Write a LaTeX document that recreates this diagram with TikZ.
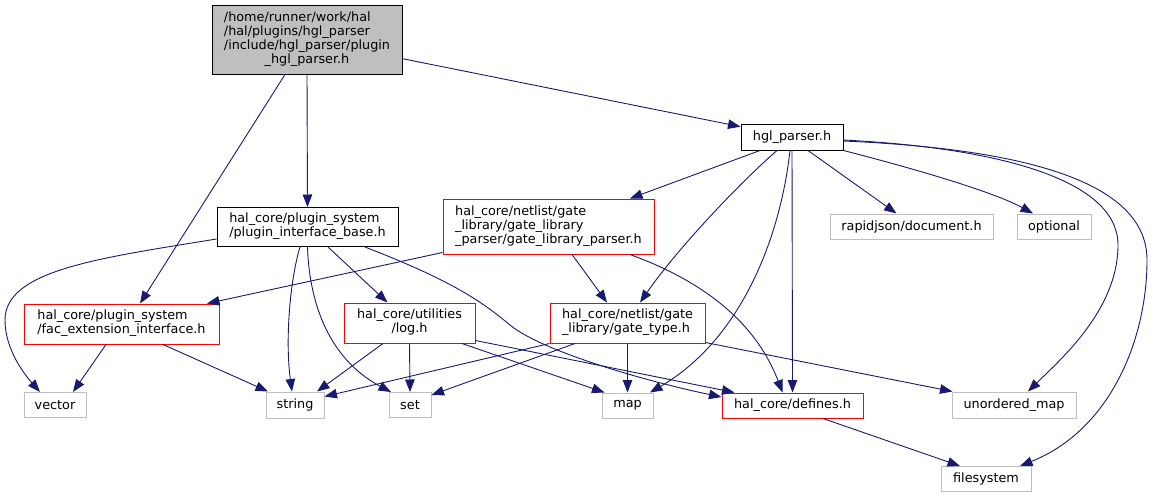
\documentclass[tikz,border=0pt]{standalone}
\usepackage{fontspec}
\setmainfont{DejaVu Sans}
\usetikzlibrary{arrows.meta}
\definecolor{edgeblue}{HTML}{191970}
\definecolor{boxred}{HTML}{FF0000}
\definecolor{boxgray}{HTML}{BFBFBF}
\tikzset{
  box/.style={draw, rectangle, inner sep=0pt, line width=1pt, fill=white,
    font=\fontsize{12.8}{13.7}\selectfont},
  blackbox/.style={box, draw=black},
  redbox/.style={box, draw=boxred},
  graybox/.style={box, draw=boxgray},
  mainbox/.style={box, draw=black, fill=boxgray},
  edge/.style={draw=edgeblue, line width=0.9pt,
    -{Triangle[length=12.5pt,width=9.5pt,fill=edgeblue]}},
}
\newcommand{\ml}[1]{\begin{tabular}{@{}l@{}}#1\end{tabular}}
\newcommand{\mc}[1]{\multicolumn{1}{@{}c@{}}{#1}}
\begin{document}
\begin{tikzpicture}[x=1pt,y=-1pt]
\useasboundingbox (0,0) rectangle (1153,499);
% nodes
\node[mainbox, minimum width=190pt, minimum height=69pt] (main) at (307,39.5)
  {\ml{/home/runner/work/hal\\/hal/plugins/hgl\_parser\\/include/hgl\_parser/plugin\\\mc{\_hgl\_parser.h}}};
\node[blackbox, minimum width=102pt, minimum height=26pt] (hgl) at (792,137) {hgl\_parser.h};
\node[blackbox, minimum width=181pt, minimum height=39pt] (pib) at (307.5,227)
  {\ml{hal\_core/plugin\_system\\/plugin\_interface\_base.h}};
\node[redbox, minimum width=211pt, minimum height=55pt] (glp) at (548.5,226.5)
  {\ml{hal\_core/netlist/gate\\\_library/gate\_library\\\_parser/gate\_library\_parser.h}};
\node[graybox, minimum width=163pt, minimum height=25pt] (rapid) at (911.5,226.5) {rapidjson/document.h};
\node[graybox, minimum width=74pt, minimum height=25pt] (opt) at (1054,226.5) {optional};
\node[redbox, minimum width=195pt, minimum height=40pt] (fac) at (121.5,324)
  {\ml{hal\_core/plugin\_system\\/fac\_extension\_interface.h}};
\node[redbox, minimum width=131pt, minimum height=40pt] (log) at (409.5,323)
  {\ml{hal\_core/utilities\\\mc{/log.h}}};
\node[redbox, minimum width=155pt, minimum height=40pt] (gtype) at (627.5,323)
  {\ml{hal\_core/netlist/gate\\\_library/gate\_type.h}};
\node[graybox, minimum width=62pt, minimum height=25pt] (vector) at (55,405) {vector};
\node[graybox, minimum width=58pt, minimum height=26pt] (string) at (295,405) {string};
\node[graybox, minimum width=42pt, minimum height=25pt] (set) at (410,405) {set};
\node[graybox, minimum width=51pt, minimum height=25pt] (map) at (627.5,405.5) {map};
\node[redbox, minimum width=141pt, minimum height=25pt] (defines) at (792.5,405.5) {hal\_core/defines.h};
\node[graybox, minimum width=124pt, minimum height=26pt] (umap) at (1014,405) {unordered\_map};
\node[graybox, minimum width=90pt, minimum height=25pt] (fs) at (986,479) {filesystem};
% edges from main
\draw[edge] (main) -- (hgl);
\draw[edge] (main.south) -- (pib.north);
\draw[edge] ([shift={(-22,0)}]main.south) -- ([shift={(18.5,0)}]fac.north);
% edges from hgl
\draw[edge] ([shift={(-32,0)}]hgl.south) -- ([shift={(81.5,0)}]glp.north);
\draw[edge] ([shift={(-15,0)}]hgl.south) .. controls (745,178) and (680,245) .. ([shift={(12.5,0)}]gtype.north);
\draw[edge] ([shift={(-2,0)}]hgl.south) .. controls (780,240) and (740,340) .. ([shift={(22.5,0)}]map.north);
\draw[edge] (hgl.south) -- (defines.north);
\draw[edge] ([shift={(16,0)}]hgl.south) -- ([shift={(-15,0)}]rapid.north);
\draw[edge] (hgl.south east) .. controls (900,165) and (990,190) .. ([shift={(-21,0)}]opt.north);
\draw[edge] ([shift={(0,3)}]hgl.east) .. controls (1000,148) and (1118,180) .. (1118,245)
  .. controls (1118,310) and (1060,360) .. ([shift={(14,0)}]umap.north);
\draw[edge] ([shift={(0,4)}]hgl.east) .. controls (1050,150) and (1147,190) .. (1147,260)
  .. controls (1147,340) and (1110,430) .. ([shift={(34,0)}]fs.north);
% edges from pib
\draw[edge] ([shift={(0,12)}]pib.west) .. controls (100,258) and (5,270) .. (5,320)
  .. controls (5,350) and (25,375) .. ([shift={(-15,0)}]vector.north);
\draw[edge] ([shift={(-7.5,0)}]pib.south) .. controls (290,280) and (285,340) .. ([shift={(-3,0)}]string.north);
\draw[edge] (pib.south) .. controls (310,320) and (340,365) .. ([shift={(-19,0)}]set.north);
\draw[edge] ([shift={(20.5,0)}]pib.south) -- ([shift={(-22,0)}]log.north);
\draw[edge] ([shift={(57.5,0)}]pib.south) .. controls (450,280) and (480,300) .. (510,325)
  .. controls (540,350) and (640,380) .. ([shift={(0,-8.5)}]defines.west);
% edges from glp
\draw[edge] ([shift={(0,-2)}]glp.south west) -- ([shift={(85.5,0)}]fac.north);
\draw[edge] ([shift={(23.5,0)}]glp.south) -- ([shift={(-20.5,0)}]gtype.north);
\draw[edge] ([shift={(81.5,0)}]glp.south) .. controls (700,280) and (755,320) .. ([shift={(-10,0)}]defines.north);
% edges from fac
\draw[edge] ([shift={(-15.5,0)}]fac.south) -- ([shift={(18,0)}]vector.north);
\draw[edge] ([shift={(41.5,0)}]fac.south) -- ([shift={(-27,0)}]string.north);
% edges from log
\draw[edge] ([shift={(-26.5,0)}]log.south) -- ([shift={(22,0)}]string.north);
\draw[edge] (log.south) -- (set.north);
\draw[edge] ([shift={(52.5,0)}]log.south) -- ([shift={(-23,0)}]map.north);
\draw[edge] ([shift={(0,-3)}]log.south east) -- ([shift={(13,0)}]defines.north west);
% edges from gtype
\draw[edge] (gtype.south west) -- ([shift={(0,5)}]string.north east);
\draw[edge] ([shift={(-52.5,0)}]gtype.south) -- ([shift={(0,3)}]set.north east);
\draw[edge] (gtype.south) -- (map.north);
\draw[edge] ([shift={(0,-1)}]gtype.south east) -- ([shift={(1,0)}]umap.north west);
% edges from defines
\draw[edge] ([shift={(30.5,0)}]defines.south) -- ([shift={(-26,0)}]fs.north);
\end{tikzpicture}
\end{document}
